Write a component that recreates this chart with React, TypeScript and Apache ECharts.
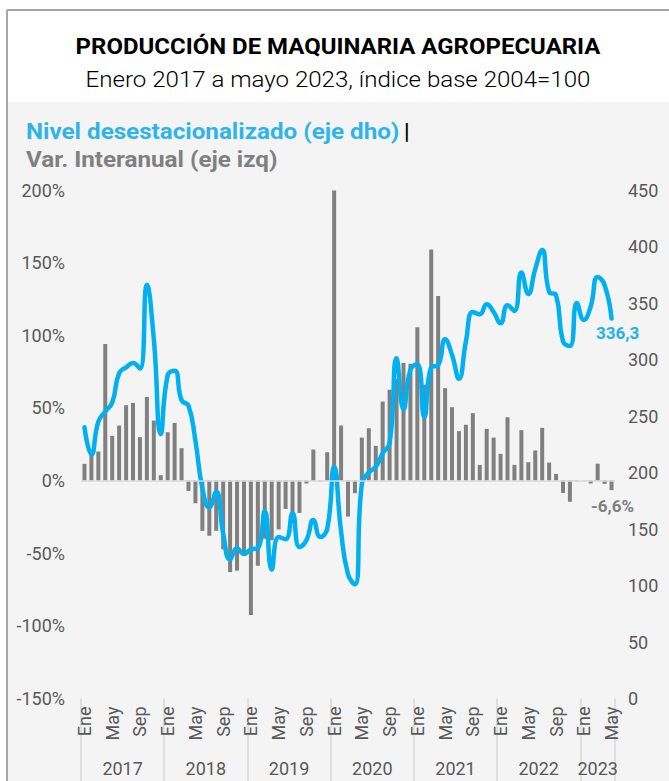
import React, { useEffect, useRef } from 'react';
import * as echarts from 'echarts';

const monthNames = ['Ene', 'Feb', 'Mar', 'Abr', 'May', 'Jun', 'Jul', 'Ago', 'Sep', 'Oct', 'Nov', 'Dic'];
const shownMonths = ['Ene', 'May', 'Sep'];
const years = ['2017', '2018', '2019', '2020', '2021', '2022', '2023'];
const monthsPerYear = [12, 12, 12, 12, 12, 12, 5];

// Var. interanual (%), eje izquierdo
const varInteranual = [
  11.5, 18, 20, 94, 30.8, 37.9, 51.9, 53.5, 29.9, 57.6, 41.3, 3.7,
  33.3, 39.7, 22.3, -7.1, -15.6, -34.6, -38, -34.6, -47.3, -63, -62, -52,
  -92.6, -58.7, -40, -41, -33.6, -19.5, -22, -22.3, -2, 21.4, -0.5, 19.5,
  199.6, 37.9, -24.8, -8.7, 29.6, 36, 23.9, 54.4, 62.5, 70, 81, 80.4,
  105.6, 66, 159, 127, 63.6, 50.5, 34, 38.4, 46.4, 10.8, 35.6, 29.6,
  18.4, 43.6, 10.8, 34.7, 12.6, 20.7, 36.3, 12.4, 4.6, -8.5, -14.6, -0.4,
  0.2, -2, 11.6, -2.3, -6.6,
];

// Nivel desestacionalizado, eje derecho
const nivelDesest = [
  240, 216, 245, 254, 262, 288, 293, 297, 292, 366, 318, 234,
  286, 290, 264, 259, 228, 186, 169, 183, 146, 123, 133, 128,
  132, 133, 166, 114, 143, 141, 164, 134, 140, 158, 143, 150,
  205, 148, 110, 101, 190, 200, 205, 217, 226, 301, 256, 291,
  296, 249, 293, 295, 318, 304, 283, 316, 342, 340, 349, 342,
  332, 348, 343, 377, 358, 380, 397, 360, 357, 316, 312, 350,
  335, 347, 373, 366, 336.3,
];

const leftAxis = { min: -150, max: 200, interval: 50 };
const rightAxis = { min: 0, max: 450, interval: 50 };

const titleText = 'PRODUCCIÓN DE MAQUINARIA AGROPECUARIA';
const subtitleText = 'Enero 2017 a mayo 2023, índice base 2004=100';
const legendLine = 'Nivel desestacionalizado (eje dho)';
const legendBar = 'Var. Interanual (eje izq)';

const fmtNum = (v: number) => v.toFixed(1).replace('.', ',');

export default function App() {
  const ref = useRef<HTMLDivElement>(null);

  useEffect(() => {
    if (!ref.current) return;
    const chart = echarts.init(ref.current, undefined, { renderer: 'svg' });

    const categories: string[] = [];
    monthsPerYear.forEach((n) => {
      for (let m = 0; m < n; m++) categories.push(monthNames[m]);
    });
    const total = categories.length;

    const boundaries: number[] = [0];
    const centers: number[] = [];
    let acc = 0;
    monthsPerYear.forEach((n) => {
      centers.push(acc + n / 2);
      acc += n;
      boundaries.push(acc);
    });

    const lastIdx = total - 1;
    const barData = varInteranual.map((v, i) =>
      i === lastIdx
        ? {
            value: v,
            label: {
              show: true,
              position: 'bottom',
              distance: 7,
              offset: [1, 0],
              formatter: (p: any) => fmtNum(p.value) + '%',
              color: '#808080',
              fontFamily: 'Roboto',
              fontWeight: 'bold',
              fontSize: 17,
            },
          }
        : v
    );
    const lineData = nivelDesest.map((v, i) =>
      i === lastIdx
        ? {
            value: v,
            label: {
              show: true,
              position: 'bottom',
              distance: 6,
              offset: [6, 0],
              formatter: (p: any) => fmtNum(p.value),
              color: '#1fb1ec',
              fontFamily: 'Roboto',
              fontWeight: 'bold',
              fontSize: 17,
            },
          }
        : v
    );

    const axisText = { color: '#595959', fontFamily: 'Roboto', fontSize: 18 };

    const option: any = {
      animation: false,
      backgroundColor: '#f4f4f4',
      graphic: [
        { type: 'rect', shape: { x: 0, y: 0, width: 669, height: 102 }, style: { fill: '#ffffff' }, silent: true },
        { type: 'rect', shape: { x: 0, y: 0, width: 7, height: 781 }, style: { fill: '#ffffff' }, silent: true },
        { type: 'line', shape: { x1: 7, y1: 10, x2: 669, y2: 10 }, style: { stroke: '#a6a6a6', lineWidth: 2 }, silent: true },
        { type: 'line', shape: { x1: 7, y1: 10, x2: 7, y2: 781 }, style: { stroke: '#a6a6a6', lineWidth: 2 }, silent: true },
        {
          type: 'text', x: 338, y: 47, scaleX: 1.09, silent: true,
          style: { text: titleText, fontFamily: 'Roboto', fontSize: 22, fontWeight: 'bold', fill: '#000000', align: 'center', verticalAlign: 'middle' },
        },
        {
          type: 'text', x: 338, y: 80, scaleX: 1.095, silent: true,
          style: { text: subtitleText, fontFamily: 'Roboto', fontSize: 22, fontWeight: 300, fill: '#000000', align: 'center', verticalAlign: 'middle' },
        },
        {
          type: 'text', x: 26, y: 132, scaleX: 1.1, silent: true,
          style: { text: legendLine, fontFamily: 'Roboto', fontSize: 22, fontWeight: 'bold', fill: '#2fb4e9', align: 'left', verticalAlign: 'middle' },
        },
        {
          type: 'text', x: 404, y: 131, silent: true,
          style: { text: '|', fontFamily: 'Roboto', fontSize: 22, fontWeight: 'bold', fill: '#000000', align: 'left', verticalAlign: 'middle' },
        },
        {
          type: 'text', x: 26, y: 160, scaleX: 1.1, silent: true,
          style: { text: legendBar, fontFamily: 'Roboto', fontSize: 22, fontWeight: 'bold', fill: '#808080', align: 'left', verticalAlign: 'middle' },
        },
      ],
      grid: { left: 81, right: 54, top: 190, bottom: 82.5, containLabel: false },
      xAxis: [
        {
          type: 'category',
          data: categories,
          position: 'bottom',
          axisLine: { show: false },
          axisTick: { show: false },
          splitLine: { show: false },
          axisLabel: {
            ...axisText,
            rotate: 90,
            margin: 8,
            interval: (idx: number, val: string) => shownMonths.includes(val),
          },
        },
        {
          type: 'value',
          position: 'bottom',
          min: 0,
          max: total,
          axisLine: { show: false },
          splitLine: { show: false },
          axisTick: {
            show: true,
            length: 83,
            customValues: boundaries,
            lineStyle: { color: '#d9d9d9', width: 1.5 },
          },
          axisLabel: {
            ...axisText,
            show: true,
            customValues: centers,
            margin: 61,
            formatter: (v: number) => {
              const k = centers.findIndex((c) => Math.abs(c - v) < 0.01);
              return k >= 0 ? years[k] : '';
            },
          },
        },
      ],
      yAxis: [
        {
          type: 'value',
          position: 'left',
          min: leftAxis.min,
          max: leftAxis.max,
          interval: leftAxis.interval,
          axisLine: { show: false },
          axisTick: { show: false },
          splitLine: { show: false },
          axisLabel: { ...axisText, margin: 16, formatter: '{value}%' },
        },
        {
          type: 'value',
          position: 'right',
          min: rightAxis.min,
          max: rightAxis.max,
          interval: rightAxis.interval,
          axisLine: { show: false },
          axisTick: { show: false },
          splitLine: { show: false },
          axisLabel: { ...axisText, margin: 13 },
        },
      ],
      series: [
        {
          type: 'bar',
          name: 'Var. Interanual',
          xAxisIndex: 0,
          yAxisIndex: 0,
          data: barData,
          barWidth: 4,
          itemStyle: { color: '#808080' },
          markLine: {
            silent: true,
            symbol: 'none',
            label: { show: false },
            lineStyle: { color: '#d9d9d9', width: 1.5, type: 'solid' },
            data: [{ yAxis: 0 }],
          },
        },
        {
          type: 'line',
          name: 'Nivel desestacionalizado',
          xAxisIndex: 0,
          yAxisIndex: 1,
          data: lineData,
          smooth: 0.5,
          showSymbol: true,
          symbol: 'circle',
          symbolSize: 1,
          itemStyle: { color: '#00b0f0' },
          lineStyle: { color: '#00b0f0', width: 4.5, cap: 'round', join: 'round' },
        },
      ],
    };

    chart.setOption(option);
    return () => chart.dispose();
  }, []);

  return (
    <div
      ref={ref}
      style={{ position: 'absolute', left: 0, top: 0, width: 669, height: 781 }}
    />
  );
}
